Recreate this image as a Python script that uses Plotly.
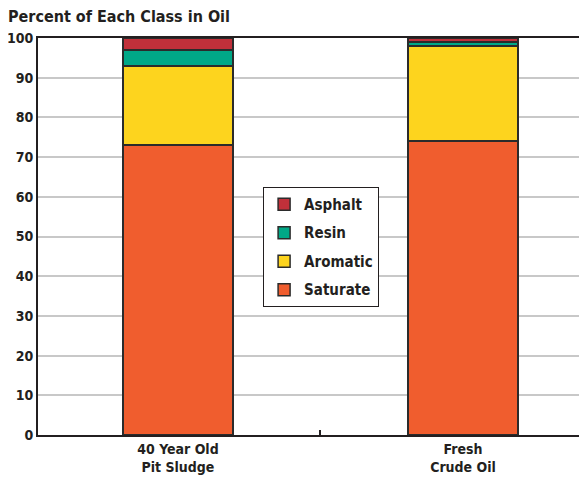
import plotly.graph_objects as go

categories = ["40 Year Old<br>Pit Sludge", "Fresh<br>Crude Oil"]
x_pos = [0, 1]
series_names = ["Saturate", "Aromatic", "Resin", "Asphalt"]
saturate = [73, 74]
aromatic = [20, 24]
resin = [4, 1]
asphalt = [3, 1]
colors = ["#f05d2e", "#fdd41e", "#00a887", "#c1303a"]
y_ticks = [0, 10, 20, 30, 40, 50, 60, 70, 80, 90, 100]

FONT = "DejaVu Sans Condensed, Liberation Sans Narrow, sans-serif"
DARK = "#231f20"

fig = go.Figure()
n = len(series_names)
for i, (name, vals, col) in enumerate(zip(series_names, [saturate, aromatic, resin, asphalt], colors)):
    fig.add_trace(go.Bar(
        x=x_pos, y=vals, name=f"<b>{name}</b>", width=0.386, legendgroup=name,
        legendrank=1000 + (n - i),
        marker=dict(color=col, line=dict(color="#2b2b2b", width=1.5)),
    ))

# page body has an 8px margin, so the figure is sized 8px smaller
fig.update_layout(
    width=579, height=472,
    barmode="stack",
    paper_bgcolor="white", plot_bgcolor="white",
    margin=dict(l=30, r=0, t=30, b=45),
    font=dict(family=FONT, color=DARK, size=14),
    title=dict(text="<b>Percent of Each Class in Oil</b>", x=0.0, xanchor="left",
               y=0.982, yanchor="middle", font=dict(size=16, family=FONT, color=DARK)),
    legend=dict(x=0.41, y=0.625, xanchor="left", yanchor="top",
                traceorder="grouped", bgcolor="white",
                bordercolor=DARK, borderwidth=1, tracegroupgap=6,
                font=dict(size=15, family=FONT, color=DARK)),
    showlegend=True,
)
fig.update_xaxes(
    range=[-0.491, 1.435], automargin=False,
    tickmode="array", tickvals=x_pos, ticktext=[f"<b>{c}</b>" for c in categories],
    ticks="", ticklen=0, showgrid=False, zeroline=False,
    showline=True, linecolor=DARK, linewidth=2, mirror=True,
    tickfont=dict(size=14, family=FONT, color=DARK),
    minor=dict(tickmode="array", tickvals=[0.5], ticks="inside", ticklen=5,
               tickcolor=DARK, tickwidth=1.5, showgrid=False),
)
fig.update_yaxes(
    range=[0, 100], automargin=False,
    tickmode="array", tickvals=y_ticks, ticktext=[f"<b>{v}</b>" for v in y_ticks],
    ticks="", ticklen=0, showgrid=True, gridcolor="#c8c8c8", gridwidth=2, zeroline=False,
    showline=True, linecolor=DARK, linewidth=2,
    tickfont=dict(size=14, family=FONT, color=DARK),
)

fig.write_html("out.html")
